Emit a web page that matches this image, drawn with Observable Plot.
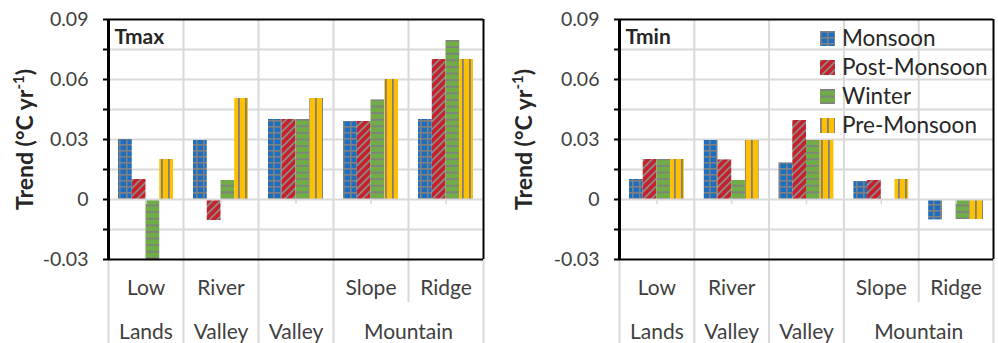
<!DOCTYPE html>
<html><head><meta charset="utf-8">
<script src="https://cdn.jsdelivr.net/npm/d3@7"></script>
<script src="https://cdn.jsdelivr.net/npm/@observablehq/plot@0.6"></script>
<style>
html,body{margin:0;padding:0;background:#fff;}
#row{display:flex;width:998px;height:343px;}
.panel{position:relative;width:499px;height:343px;}
#legend{position:absolute;left:321px;top:24px;width:178px;}
#legend svg{margin-right:7px !important;}
#legend div{line-height:28px;}
</style></head><body>
<svg width="0" height="0" style="position:absolute"><defs>
<pattern id="pMon" patternUnits="userSpaceOnUse" width="7" height="6">
  <rect width="7" height="6" fill="#1c6fc0"/>
  <rect width="1.6" height="6" fill="#808080"/>
  <rect width="7" height="1.6" fill="#808080"/>
</pattern>
<pattern id="pPost" patternUnits="userSpaceOnUse" width="5.5" height="7" patternTransform="rotate(45)">
  <rect width="5.5" height="7" fill="#c8202a"/>
  <rect width="1.8" height="7" fill="#8a8a8a"/>
</pattern>
<pattern id="pWin" patternUnits="userSpaceOnUse" width="6" height="6.6">
  <rect width="6" height="6.6" fill="#70ad47"/>
  <rect width="6" height="1.8" fill="#808080"/>
</pattern>
<pattern id="pPre" patternUnits="userSpaceOnUse" width="7" height="6">
  <rect width="7" height="6" fill="#ffc000"/>
  <rect width="1.8" height="6" fill="#808080"/>
</pattern>
</defs></svg>
<div id="row"><div class="panel" id="left"></div><div class="panel" id="right"><div id="legend"></div></div></div>
<script>
// ---- data ----
const categories = ["Low Lands", "River Valley", "Valley", "Mountain Slope", "Mountain Ridge"];
const catRow1 = ["Low", "River", "", "Slope", "Ridge"];
const groupLabels = ["Lands", "Valley", "Valley", "Mountain"];
const groupStart = [0, 1, 2, 3];
const groupEnd = [1, 2, 3, 5];
const seasons = ["Monsoon", "Post-Monsoon", "Winter", "Pre-Monsoon"];

const tmaxMonsoon     = [0.030, 0.0295, 0.040, 0.039, 0.040];
const tmaxPostMonsoon = [0.010, -0.0105, 0.040, 0.039, 0.070];
const tmaxWinter      = [-0.030, 0.0095, 0.040, 0.0498, 0.0795];
const tmaxPreMonsoon  = [0.020, 0.0505, 0.0505, 0.060, 0.070];

const tminMonsoon     = [0.010, 0.0295, 0.0183, 0.009, -0.0102];
const tminPostMonsoon = [0.020, 0.0198, 0.0395, 0.0095, 0];
const tminWinter      = [0.020, 0.0095, 0.0295, 0, -0.010];
const tminPreMonsoon  = [0.020, 0.0295, 0.0295, 0.010, -0.010];

const yTicks = [-0.03, -0.015, 0, 0.015, 0.03, 0.045, 0.06, 0.075, 0.09];
const yLabelTicks = [-0.03, 0, 0.03, 0.06, 0.09];
const yTitle = "Trend (°C yr-1)";

// ---- styling ----
const fills = ["url(#pMon)", "url(#pPost)", "url(#pWin)", "url(#pPre)"];
const grid = "#d9d9d9";
const W = 499, H = 343, MT = 19, MB = 84;
const yMin = yTicks[0], yMax = yTicks[yTicks.length - 1];
const yPerPx = (yMax - yMin) / (H - MT - MB);
const barPad = 10 / 75, barW = 13.75 / 75;

function panel(title, values, marginLeft, marginRight) {
  const n = categories.length;
  const bounds = d3.range(n + 1);
  const fullBounds = Array.from(new Set([...groupStart, groupEnd[groupEnd.length - 1]]));
  const shortBounds = bounds.filter(b => !fullBounds.includes(b));
  const centers = d3.range(n).map(i => i + 0.5);
  const barMarks = seasons.map((s, j) =>
    Plot.rect(values[j].map((v, i) => ({i, v})).filter(d => d.v !== 0), {
      x1: d => d.i + barPad + j * barW,
      x2: d => d.i + barPad + (j + 1) * barW,
      y1: () => 0,
      y2: "v",
      fill: fills[j]
    }));
  const plot = Plot.plot({
    width: W, height: H, marginTop: MT, marginBottom: MB, marginLeft, marginRight,
    x: {type: "linear", domain: [0, n], axis: null},
    y: {domain: [yMin, yMax], axis: null},
    style: {fontFamily: "Lato, sans-serif", background: "white", overflow: "visible"},
    marks: [
      Plot.ruleY(yTicks.filter(t => t !== yMin && t !== yMax && t !== 0), {stroke: grid, strokeWidth: 2}),
      Plot.ruleX(bounds.slice(1, -1), {y1: yMin, y2: yMax, stroke: grid, strokeWidth: 2}),
      Plot.ruleX(fullBounds, {y1: yMin, y2: yMin - (H - MT) * yPerPx, stroke: grid, strokeWidth: 2}),
      Plot.ruleX(shortBounds, {y1: yMin, y2: yMin - 43 * yPerPx, stroke: grid, strokeWidth: 2}),
      ...barMarks,
      Plot.ruleY([0], {stroke: grid, strokeWidth: 2}),
      Plot.ruleX(centers, {y1: 0, y2: -5 * yPerPx, stroke: grid, strokeWidth: 1.5}),
      Plot.ruleY([yMax, yMin], {stroke: "black", strokeWidth: 2}),
      Plot.ruleX([n], {y1: yMin, y2: yMax, stroke: "black", strokeWidth: 2}),
      Plot.ruleX([0], {y1: yMin, y2: yMax, stroke: "black", strokeWidth: 3}),
      Plot.axisY(yTicks, {
        tickSize: 5, tickPadding: 15, stroke: "black", strokeWidth: 2,
        tickFormat: d => yLabelTicks.includes(d) ? (d === 0 ? "0" : d.toFixed(2)) : "",
        fill: "#404040", fontSize: 19.5, label: null
      }),
      Plot.text([title], {frameAnchor: "top-left", dx: 6, dy: 10, fontSize: 21, fontWeight: "bold", fill: "#262626"}),
      Plot.text([yTitle], {frameAnchor: "left", textAnchor: "middle", rotate: -90, dx: -(marginLeft - 25), fontSize: 23, fontWeight: "bold", fill: "#262626"}),
      Plot.text(catRow1, {x: (d, i) => i + 0.5, y: () => yMin, dy: 29, fontSize: 21, fill: "#404040"}),
      Plot.text(groupLabels, {x: (d, i) => (groupStart[i] + groupEnd[i]) / 2, y: () => yMin, dy: 73, fontSize: 21, fill: "#404040"})
    ]
  });
  // superscript in the y title
  d3.select(plot).selectAll("text").filter(function() { return this.textContent === yTitle; }).each(function() {
    const t = d3.select(this);
    t.text(null);
    t.append("tspan").text("Trend (°C yr");
    t.append("tspan").attr("dy", -9).attr("font-size", 15).text("-1");
    t.append("tspan").attr("dy", 9).text(")");
  });
  return plot;
}

document.getElementById("left").append(panel("Tmax", [tmaxMonsoon, tmaxPostMonsoon, tmaxWinter, tmaxPreMonsoon], 108, 16));
document.getElementById("right").prepend(panel("Tmin", [tminMonsoon, tminPostMonsoon, tminWinter, tminPreMonsoon], 120, 5));

document.getElementById("legend").append(Plot.legend({
  color: {type: "ordinal", domain: seasons, range: fills},
  columns: 1, swatchSize: 15,
  style: {fontFamily: "Lato, sans-serif", fontSize: "22.5px", color: "#262626", margin: 0}
}));
</script></body></html>
